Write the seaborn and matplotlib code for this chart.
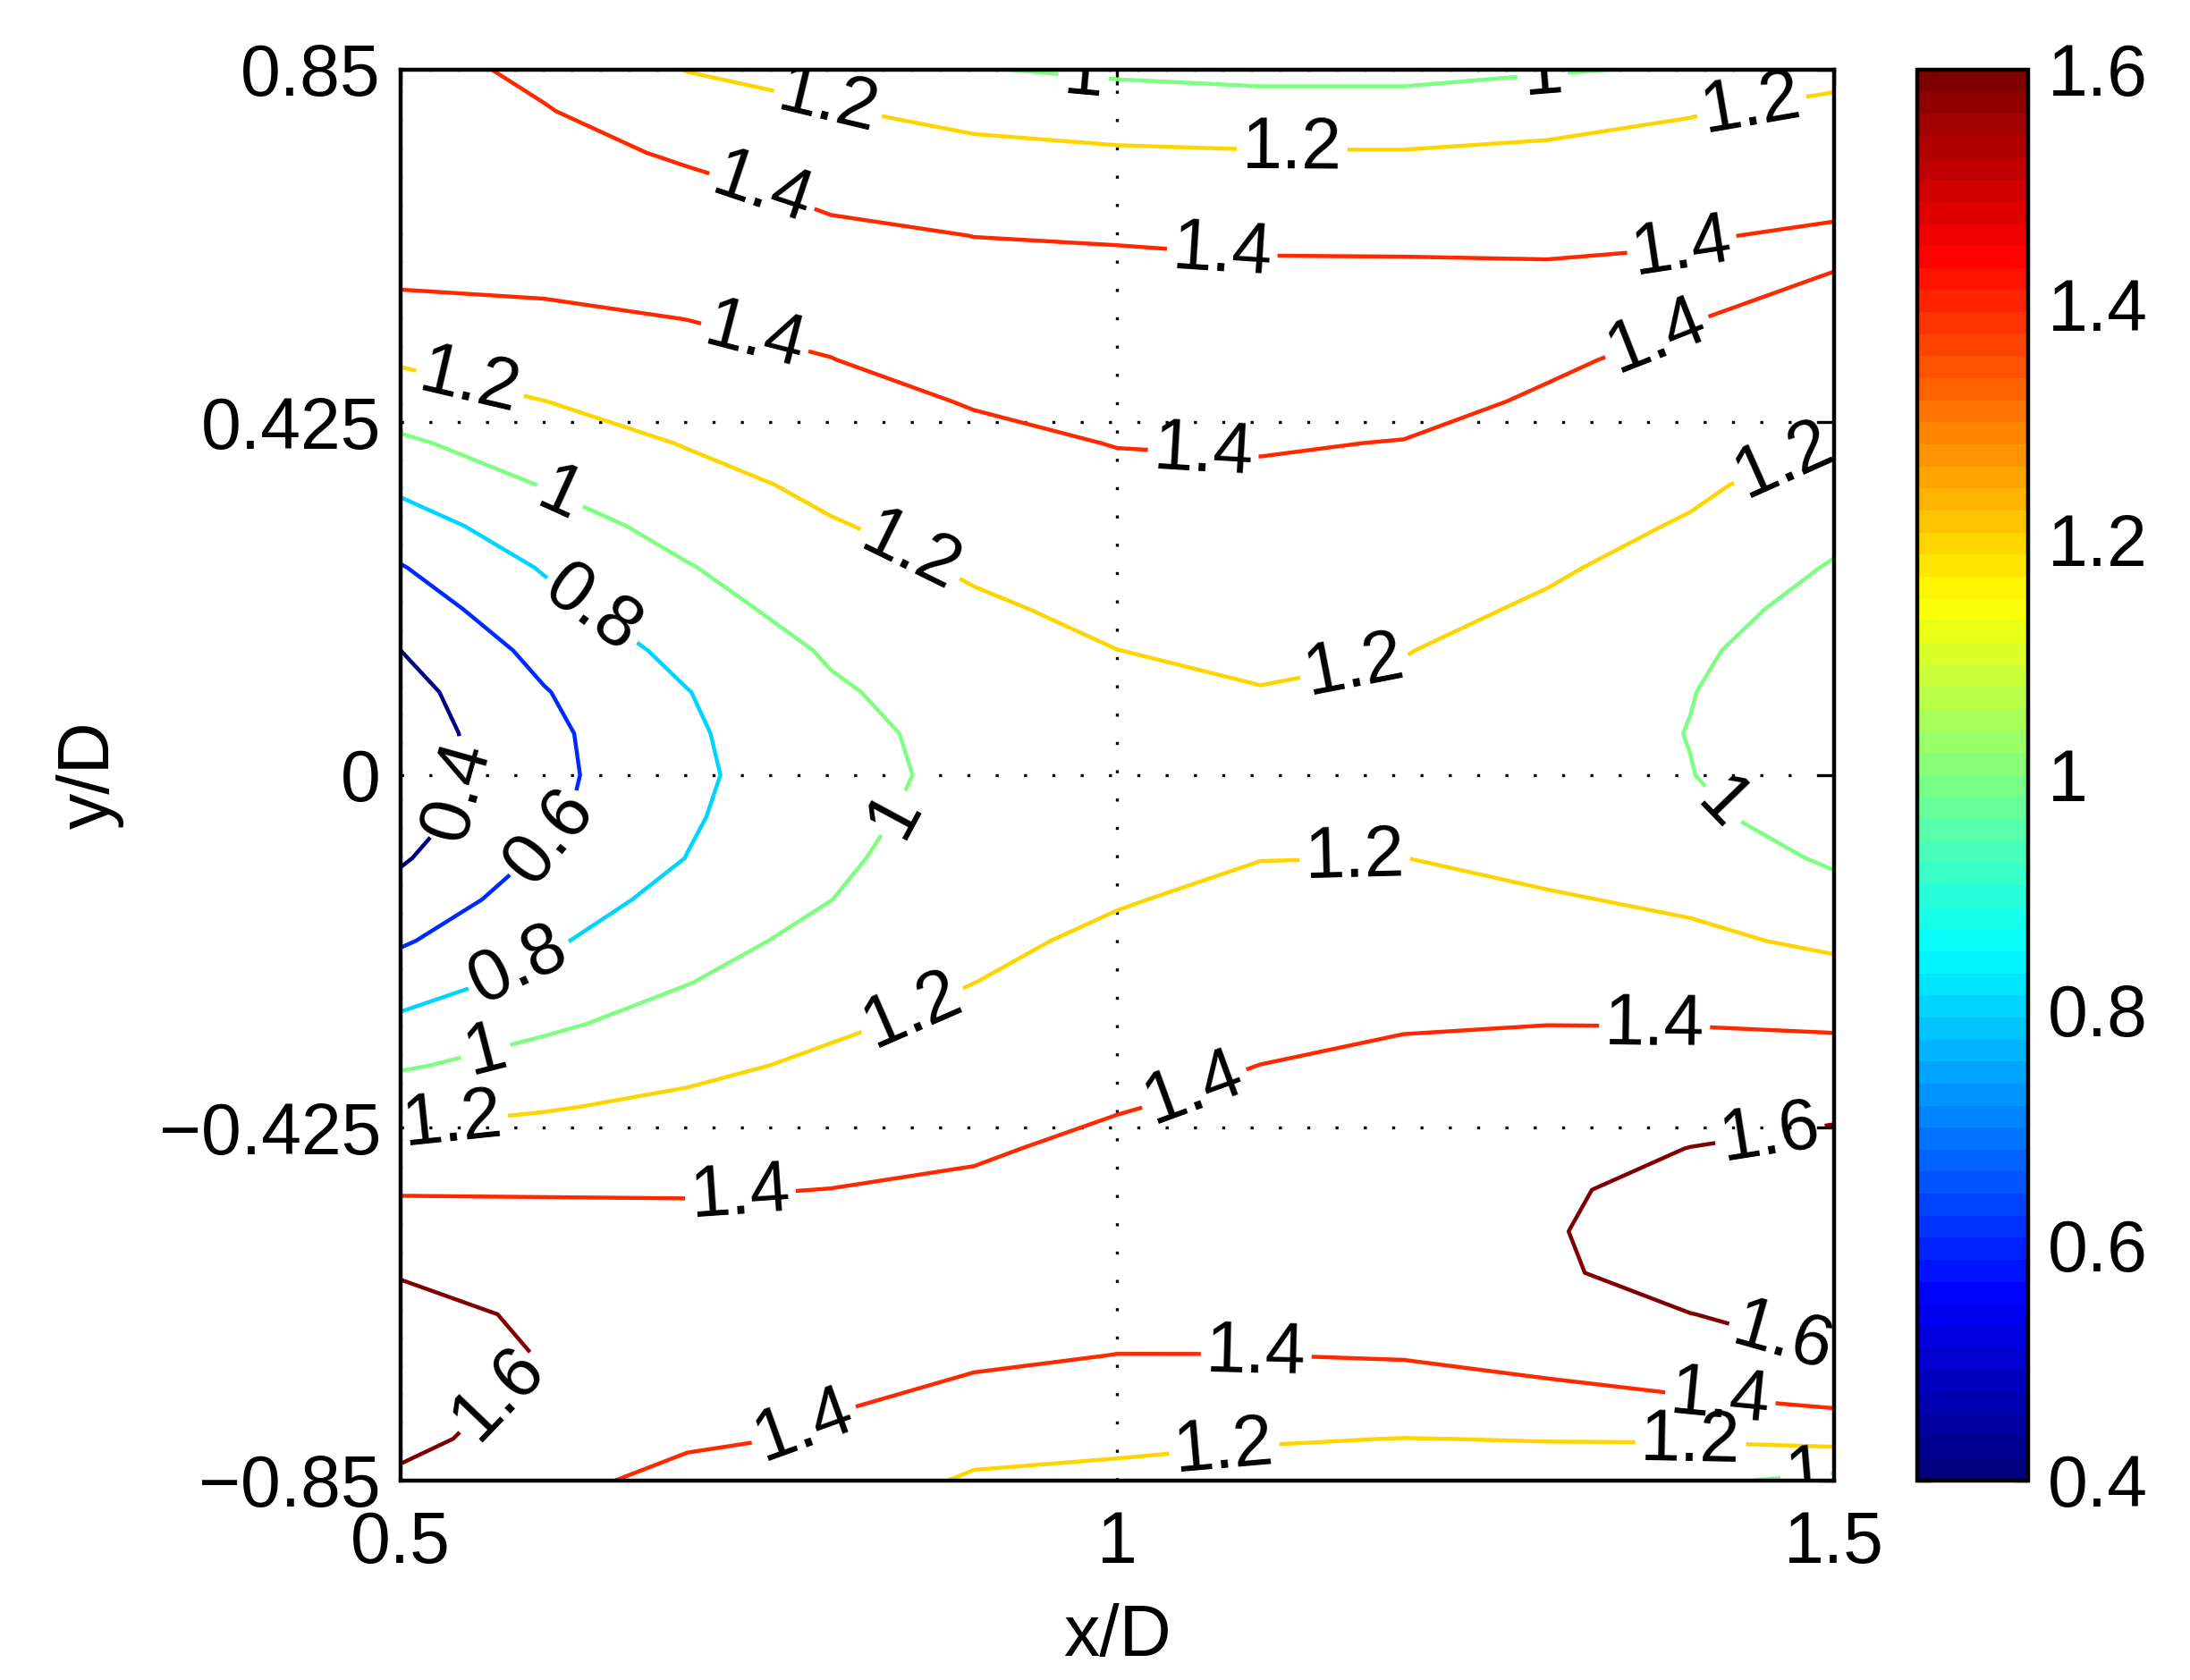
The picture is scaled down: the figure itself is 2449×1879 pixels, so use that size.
import numpy as np
import matplotlib
matplotlib.use("Agg")
import matplotlib.pyplot as plt
import seaborn as sns
from matplotlib.colors import LinearSegmentedColormap, Normalize
from matplotlib.cm import ScalarMappable

sns.set_style("white")
plt.rcParams["font.family"] = ["Liberation Sans", "DejaVu Sans"]
plt.rcParams["text.color"] = "k"
plt.rcParams["axes.labelcolor"] = "k"
plt.rcParams["xtick.color"] = "k"
plt.rcParams["ytick.color"] = "k"

# ---------------- data ----------------
x_vals = [0.5, 0.6, 0.7, 0.8, 0.9, 1.0, 1.1, 1.2, 1.3, 1.4, 1.5]
y_vals = [0.85, 0.80, 0.75, 0.70, 0.65, 0.60, 0.55, 0.50, 0.45, 0.40, 0.35, 0.30,
          0.25, 0.20, 0.15, 0.10, 0.05, 0.00, -0.05, -0.10, -0.15, -0.20, -0.25,
          -0.30, -0.35, -0.40, -0.45, -0.50, -0.55, -0.60, -0.65, -0.70, -0.75,
          -0.80, -0.85]

# one column of values (top to bottom) for each x/D station
z_x050 = [1.47, 1.48, 1.49, 1.48, 1.46, 1.43, 1.33, 1.22, 1.10, 0.97, 0.84, 0.71,
          0.59, 0.495, 0.40, 0.33, 0.295, 0.29, 0.32, 0.38, 0.47, 0.58, 0.705,
          0.84, 0.98, 1.135, 1.27, 1.385, 1.49, 1.595, 1.625, 1.66, 1.64, 1.615, 1.59]
z_x060 = [1.36, 1.41, 1.45, 1.46, 1.455, 1.44, 1.363, 1.282, 1.198, 1.105, 1.01, 0.912,
          0.815, 0.737, 0.655, 0.59, 0.554, 0.543, 0.56, 0.626, 0.699, 0.772, 0.864,
          0.968, 1.077, 1.188, 1.286, 1.383, 1.48, 1.55, 1.588, 1.595, 1.579, 1.574, 1.50]
z_x070 = [1.195, 1.29, 1.38, 1.44, 1.45, 1.44, 1.402, 1.338, 1.274, 1.21, 1.138, 1.065,
          0.99, 0.93, 0.855, 0.795, 0.773, 0.77, 0.78, 0.803, 0.863, 0.929, 0.995,
          1.076, 1.158, 1.237, 1.312, 1.387, 1.45, 1.49, 1.51, 1.51, 1.49, 1.45, 1.30]
z_x080 = [1.15, 1.212, 1.288, 1.375, 1.425, 1.43, 1.425, 1.398, 1.343, 1.291, 1.24, 1.187,
          1.132, 1.076, 1.02, 0.977, 0.94, 0.90, 0.93, 0.965, 0.998, 1.055, 1.114,
          1.173, 1.231, 1.288, 1.345, 1.402, 1.44, 1.46, 1.47, 1.46, 1.42, 1.37, 1.34]
z_x090 = [1.01, 1.145, 1.245, 1.322, 1.399, 1.43, 1.445, 1.44, 1.41, 1.361, 1.314, 1.268,
          1.221, 1.175, 1.13, 1.085, 1.065, 1.075, 1.09, 1.105, 1.136, 1.168, 1.199,
          1.245, 1.292, 1.338, 1.385, 1.42, 1.45, 1.465, 1.46, 1.42, 1.37, 1.29, 1.17]
z_x100 = [0.97, 1.10, 1.222, 1.299, 1.385, 1.45, 1.46, 1.46, 1.44, 1.405, 1.363, 1.322,
          1.281, 1.24, 1.199, 1.17, 1.145, 1.13, 1.135, 1.155, 1.19, 1.228, 1.269,
          1.31, 1.351, 1.393, 1.43, 1.455, 1.47, 1.47, 1.44, 1.398, 1.32, 1.236, 1.16]
z_x110 = [0.96, 1.06, 1.211, 1.287, 1.363, 1.44, 1.455, 1.46, 1.455, 1.41, 1.379, 1.342,
          1.305, 1.268, 1.231, 1.194, 1.175, 1.165, 1.175, 1.197, 1.237, 1.278, 1.318,
          1.359, 1.401, 1.43, 1.455, 1.47, 1.475, 1.47, 1.445, 1.398, 1.308, 1.211, 1.14]
z_x120 = [0.96, 1.06, 1.211, 1.285, 1.359, 1.44, 1.46, 1.465, 1.44, 1.396, 1.358, 1.32,
          1.282, 1.244, 1.205, 1.175, 1.16, 1.155, 1.165, 1.201, 1.246, 1.293, 1.34,
          1.387, 1.44, 1.48, 1.51, 1.53, 1.54, 1.535, 1.51, 1.41, 1.309, 1.198, 1.14]
z_x130 = [0.985, 1.12, 1.235, 1.292, 1.36, 1.43, 1.44, 1.42, 1.384, 1.343, 1.302, 1.261,
          1.22, 1.18, 1.14, 1.10, 1.075, 1.085, 1.105, 1.15, 1.216, 1.277, 1.338,
          1.398, 1.46, 1.51, 1.55, 1.575, 1.585, 1.575, 1.54, 1.46, 1.35, 1.205, 1.13]
z_x140 = [1.02, 1.19, 1.253, 1.315, 1.39, 1.425, 1.405, 1.363, 1.318, 1.274, 1.229, 1.185,
          1.14, 1.065, 1.025, 1.005, 0.996, 1.004, 1.041, 1.112, 1.17, 1.237, 1.316,
          1.395, 1.478, 1.545, 1.602, 1.655, 1.685, 1.67, 1.598, 1.52, 1.394, 1.216, 1.04]
z_x150 = [1.14, 1.25, 1.297, 1.361, 1.42, 1.397, 1.347, 1.297, 1.246, 1.194, 1.124, 1.054,
          0.985, 0.94, 0.91, 0.89, 0.88, 0.885, 0.90, 0.972, 1.069, 1.167, 1.271,
          1.379, 1.476, 1.571, 1.64, 1.68, 1.69, 1.68, 1.65, 1.597, 1.45, 1.26, 0.95]

levels = [0.4, 0.6, 0.8, 1.0, 1.2, 1.4, 1.6]
x_ticks = [0.5, 1.0, 1.5]
x_ticklabels = ["0.5", "1", "1.5"]
y_ticks = [-0.85, -0.425, 0.0, 0.425, 0.85]
y_ticklabels = ["\u22120.85", "\u22120.425", "0", "0.425", "0.85"]
cbar_ticks = [0.4, 0.6, 0.8, 1.0, 1.2, 1.4, 1.6]
cbar_ticklabels = ["0.4", "0.6", "0.8", "1", "1.2", "1.4", "1.6"]

# label anchor points (where the inline labels sit)
label_x = [0.798, 0.976, 1.297, 1.122, 1.443, 0.751, 1.073, 1.395, 0.747, 1.060,
           1.378, 0.547, 0.854, 1.166, 1.468, 0.610, 0.635, 0.537, 0.605, 0.849,
           1.424, 0.583, 0.559, 0.537, 0.859, 1.166, 0.737, 1.054, 1.375, 1.456,
           1.463, 0.576, 0.781, 1.097, 1.421, 1.075, 1.400, 1.480]
label_y = [0.808, 0.830, 0.842, 0.757, 0.803, 0.698, 0.623, 0.623, 0.527, 0.387,
           0.522, 0.463, 0.261, 0.126, 0.370, 0.332, 0.202, -0.017, -0.076, -0.050,
           -0.034, -0.232, -0.332, -0.426, -0.291, -0.106, -0.505, -0.379, -0.308, -0.438,
           -0.687, -0.757, -0.783, -0.707, -0.749, -0.816, -0.816, -0.837]

# ---------------- figure ----------------
Z = np.column_stack([z_x050, z_x060, z_x070, z_x080, z_x090, z_x100,
                     z_x110, z_x120, z_x130, z_x140, z_x150])
X, Y = np.meshgrid(x_vals, y_vals)

# MATLAB-style jet colormap, 64 bands
jet_base = LinearSegmentedColormap.from_list(
    "mjet",
    [(0.0, (0, 0, 0.5)), (0.125, (0, 0, 1)), (0.375, (0, 1, 1)),
     (0.625, (1, 1, 0)), (0.875, (1, 0, 0)), (1.0, (0.5, 0, 0))])
jet64 = jet_base.resampled(64)
norm = Normalize(vmin=0.4, vmax=1.6)

fig = plt.figure(figsize=(12.245, 9.395), dpi=200)
ax = fig.add_axes([0.1830, 0.1189, 0.6543, 0.8396])
cax = fig.add_axes([0.8756, 0.1189, 0.0504, 0.8396])

ax.set_xlim(0.5, 1.5)
ax.set_ylim(-0.85, 0.85)

cs = ax.contour(X, Y, Z, levels=levels, cmap=jet_base, norm=norm, linewidths=1.6)

ax.grid(True, color="k", linestyle=(0, (1, 8.5)), linewidth=1.2)
ax.set_axisbelow(True)

ax.set_xticks(x_ticks)
ax.set_xticklabels(x_ticklabels)
ax.set_yticks(y_ticks)
ax.set_yticklabels(y_ticklabels)
ax.tick_params(axis="both", direction="in", length=6, width=1.2, labelsize=29,
               top=True, right=True, colors="k")
ax.tick_params(axis="x", pad=12)
ax.tick_params(axis="y", pad=8)
for s in ax.spines.values():
    s.set_linewidth(1.6)
    s.set_color("k")

ax.set_xlabel("x/D", fontsize=29, labelpad=10, color="k")
ax.set_ylabel("y/D", fontsize=29, labelpad=14, color="k")

ax.clabel(cs, levels, manual=list(zip(label_x, label_y)), inline=True,
          inline_spacing=6, fontsize=29, colors="k", fmt=lambda v: f"{v:g}")

sm = ScalarMappable(norm=norm, cmap=jet64)
cb = fig.colorbar(sm, cax=cax, ticks=cbar_ticks)
cb.ax.set_yticklabels(cbar_ticklabels)
cb.outline.set_linewidth(1.6)
cb.outline.set_edgecolor("k")
cax.tick_params(direction="in", left=True, right=True, length=6, width=1.2,
                labelsize=29, pad=8, colors="k")

fig.savefig("out.png", dpi=200)
